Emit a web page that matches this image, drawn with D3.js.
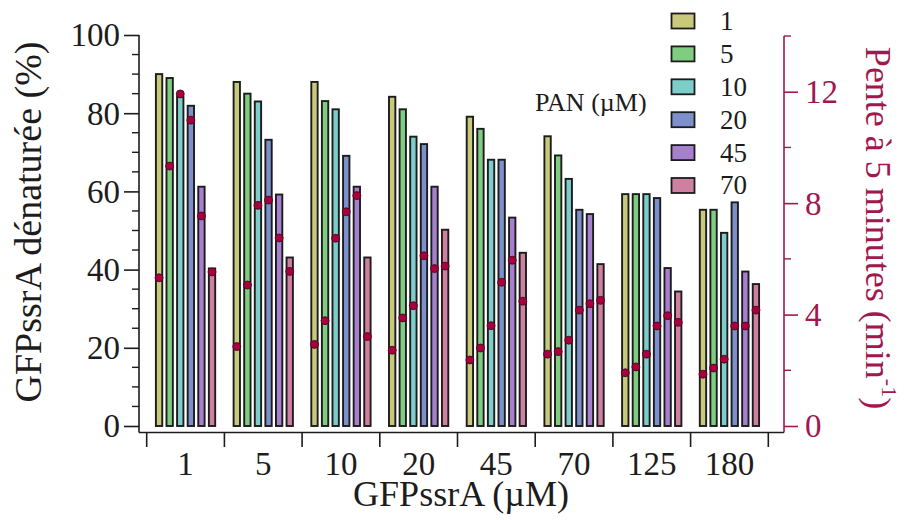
<!DOCTYPE html>
<html><head><meta charset="utf-8">
<script src="https://cdn.jsdelivr.net/npm/d3@7"></script>
<style>
html,body{margin:0;padding:0;background:#fff;}
svg text{font-family:'Liberation Serif','Times New Roman',Times,'DejaVu Serif',serif !important;}
</style></head>
<body><svg id="chart" width="908" height="520"></svg>
<script>
const categories = ["1","5","10","20","45","70","125","180"];
const seriesNames = ["1","5","10","20","45","70"];
const seriesColors = ["#c9c97c","#7fcd80","#7dcdcb","#7d90cc","#a77fcf","#cf7f9f"];
// % denatured (bars), one array per PAN concentration, across GFPssrA categories
const bar_1  = [90, 88, 88, 84.2, 79.1, 74.1, 59.3, 55.3];
const bar_5  = [89, 85, 83.1, 81, 76, 69.2, 59.3, 55.3];
const bar_10 = [84.2, 83, 81, 74, 68.1, 63.2, 59.3, 49.4];
const bar_20 = [81.9, 73.2, 69.1, 72.1, 68.1, 55.3, 58.3, 57.2];
const bar_45 = [61.2, 59.2, 61.2, 61.2, 53.3, 54.2, 40.4, 39.5];
const bar_70 = [40.3, 43.1, 43.1, 50.2, 44.3, 41.4, 34.4, 36.3];
// slope at 5 minutes (points, right axis)
const pt_1  = [5.32, 2.85, 2.93, 2.72, 2.37, 2.58, 1.91, 1.86];
const pt_5  = [9.33, 5.06, 3.78, 3.88, 2.80, 2.67, 2.12, 2.08];
const pt_10 = [11.92, 7.92, 6.74, 4.32, 3.60, 3.08, 2.58, 2.40];
const pt_20 = [10.98, 8.11, 7.69, 6.11, 5.16, 4.16, 3.59, 3.59];
const pt_45 = [7.54, 6.75, 8.27, 5.65, 5.95, 4.39, 3.96, 3.59];
const pt_70 = [5.53, 5.55, 3.21, 5.74, 4.48, 4.51, 3.72, 4.16];
const leftTicks = [0, 20, 40, 60, 80, 100];
const rightTicks = [0, 4, 8, 12];

const bars = [bar_1, bar_5, bar_10, bar_20, bar_45, bar_70];
const pts = [pt_1, pt_5, pt_10, pt_20, pt_45, pt_70];

const FONT = "'Liberation Serif','Times New Roman',Times,serif";
const svg = d3.select("#chart").attr("font-family", FONT);
const ink = "#1c1c1c";
const crimson = "#a0184f";

const x0 = d3.scaleBand().domain(categories).range([146.7, 768.3]).paddingInner(0).paddingOuter(0);
const bw = x0.bandwidth();
const x1 = d3.scaleBand().domain(seriesNames).range([9.2, bw - 9.2]).paddingInner(0.40).paddingOuter(0);
const yL = d3.scaleLinear().domain([0, 100]).range([426, 35]);
const yR = d3.scaleLinear().domain([0, 14]).range([426, 36]);

// bars
const g = svg.append("g");
categories.forEach((c, ci) => {
  seriesNames.forEach((s, si) => {
    const v = bars[si][ci];
    g.append("rect")
      .attr("x", x0(c) + x1(s))
      .attr("y", yL(v))
      .attr("width", x1.bandwidth())
      .attr("height", yL(0) - yL(v))
      .attr("fill", seriesColors[si])
      .attr("stroke", ink)
      .attr("stroke-width", 1.9);
  });
});
// points
categories.forEach((c, ci) => {
  seriesNames.forEach((s, si) => {
    g.append("circle")
      .attr("cx", x0(c) + x1(s) + x1.bandwidth() / 2)
      .attr("cy", yR(pts[si][ci]))
      .attr("r", 4)
      .attr("fill", "#a8003e")
      .attr("stroke", "#4a0a1e")
      .attr("stroke-width", 0.9);
  });
});

// x axis line
const axisY = 432.5;
svg.append("line").attr("x1", 139).attr("x2", 784).attr("y1", axisY).attr("y2", axisY)
  .attr("stroke", ink).attr("stroke-width", 1.6);
const edges = categories.map(c => x0(c)).concat([x0(categories[categories.length - 1]) + bw]);
svg.append("g").selectAll("line").data(edges).join("line")
  .attr("x1", d => d).attr("x2", d => d).attr("y1", axisY).attr("y2", 447)
  .attr("stroke", ink).attr("stroke-width", 1.6);
svg.append("g").selectAll("text").data(categories).join("text")
  .attr("x", d => x0(d) + bw / 2).attr("y", 475)
  .attr("text-anchor", "middle").attr("font-size", 33).attr("fill", ink)
  .attr("font-family", FONT)
  .text(d => d);
svg.append("text").attr("x", 461).attr("y", 506).attr("text-anchor", "middle")
  .attr("font-family", FONT)
  .attr("font-size", 36).attr("fill", ink).text("GFPssrA (µM)");

// left axis
const axL = d3.axisLeft(yL).tickValues(leftTicks).tickSize(15).tickPadding(4).tickSizeOuter(0);
const gL = svg.append("g").attr("transform", "translate(139,0)").call(axL).attr("font-family", FONT);
gL.select(".domain").remove();
gL.selectAll(".tick line").attr("stroke", ink).attr("stroke-width", 1.6);
gL.selectAll(".tick text").attr("font-size", 33).attr("fill", ink)
  .attr("font-family", FONT).attr("dy", "0.33em");
gL.append("g").selectAll("line").data(d3.range(5, 100, 5).filter(v => v % 20 !== 0)).join("line")
  .attr("x1", -7).attr("x2", 0).attr("y1", d => yL(d)).attr("y2", d => yL(d))
  .attr("stroke", ink).attr("stroke-width", 1.4);
svg.append("line").attr("x1", 139).attr("x2", 139).attr("y1", yL(100)).attr("y2", axisY)
  .attr("stroke", ink).attr("stroke-width", 1.6);
svg.append("text")
  .attr("transform", "translate(41,222) rotate(-90)")
  .attr("font-family", FONT)
  .attr("text-anchor", "middle").attr("font-size", 38).attr("fill", ink)
  .text("GFPssrA dénaturée (%)");

// right axis
const axR = d3.axisRight(yR).tickValues(rightTicks).tickSize(14).tickPadding(7).tickSizeOuter(0);
const gR = svg.append("g").attr("transform", "translate(784,0)").call(axR).attr("font-family", FONT);
gR.select(".domain").remove();
gR.selectAll(".tick line").attr("stroke", crimson).attr("stroke-width", 1.6);
gR.selectAll(".tick text").attr("font-size", 33).attr("fill", crimson)
  .attr("font-family", FONT).attr("dy", "0.33em");
gR.append("g").selectAll("line").data([2, 6, 10, 14]).join("line")
  .attr("x1", 0).attr("x2", 7).attr("y1", d => yR(d)).attr("y2", d => yR(d))
  .attr("stroke", crimson).attr("stroke-width", 1.4);
svg.append("line").attr("x1", 784).attr("x2", 784).attr("y1", yR(14)).attr("y2", axisY)
  .attr("stroke", crimson).attr("stroke-width", 1.6);
const rt = svg.append("text")
  .attr("transform", "translate(866,228) rotate(90)")
  .attr("font-family", FONT)
  .attr("text-anchor", "middle").attr("font-size", 36).attr("fill", crimson);
rt.append("tspan").text("Pente à 5 minutes (min");
rt.append("tspan").attr("font-size", 22).attr("dy", -16).text("-1");
rt.append("tspan").attr("dy", 16).text(")");

// legend
const lg = svg.append("g");
const rowY = d3.scalePoint().domain(seriesNames).range([21, 185.5]);
seriesNames.forEach((s, i) => {
  lg.append("rect").attr("x", 671.5).attr("y", rowY(s) - 7.5).attr("width", 23).attr("height", 15)
    .attr("fill", seriesColors[i]).attr("stroke", ink).attr("stroke-width", 1.8);
  lg.append("text").attr("x", 720).attr("y", rowY(s)).attr("dy", "0.33em")
    .attr("font-family", FONT)
    .attr("font-size", 27).attr("fill", ink).text(s);
});
lg.append("text").attr("x", 535).attr("y", 111).attr("font-family", FONT)
  .attr("font-size", 26).attr("fill", ink).text("PAN (µM)");
</script></body></html>
